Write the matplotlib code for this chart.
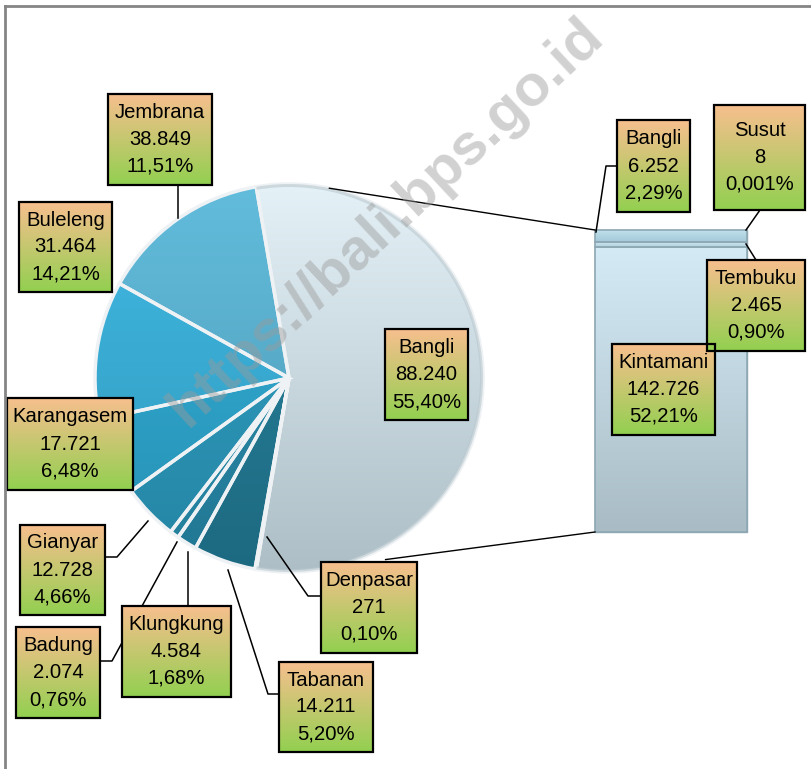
import numpy as np
import matplotlib
matplotlib.use('Agg')
import matplotlib.pyplot as plt
from matplotlib.patches import Rectangle, Wedge
from matplotlib.colors import to_rgb

plt.rcParams['font.family'] = ['Liberation Sans', 'DejaVu Sans']

# pie part (kabupaten / kota)
districts = ['Jembrana', 'Buleleng', 'Karangasem', 'Gianyar', 'Badung',
             'Klungkung', 'Tabanan', 'Denpasar']
district_values = [38849, 31464, 17721, 12728, 2074, 4584, 14211, 271]
district_value_text = ['38.849', '31.464', '17.721', '12.728', '2.074',
                       '4.584', '14.211', '271']
district_pct_text = ['11,51%', '14,21%', '6,48%', '4,66%', '0,76%',
                     '1,68%', '5,20%', '0,10%']
district_colors = ['#58b2d2', '#37b0da', '#2ca7d0', '#2a9abe', '#2792b3',
                   '#268aab', '#217b96', '#1d6f88']

bangli_label = 'Bangli'
bangli_value_text = '88.240'
bangli_pct_text = '55,40%'

# bar part (kecamatan di Bangli), bottom to top
sub_names = ['Kintamani', 'Tembuku', 'Bangli', 'Susut']
sub_values = [142726, 2465, 6252, 8]
sub_value_text = ['142.726', '2.465', '6.252', '8']
sub_pct_text = ['52,21%', '0,90%', '2,29%', '0,001%']
sub_colors = [('#d4ebf6', '#a9bcc5'), ('#c9e4ef', '#b3d2de'),
              ('#c2e2ee', '#a3c9d8'), ('#c2e2ee', '#a3c9d8')]

W, H = 812, 769
fig = plt.figure(figsize=(W / 100, H / 100), dpi=100)
ax = fig.add_axes([0, 0, 1, 1])


def gradient(extent, c_top, c_bot, clip=None, zorder=2):
    t = np.linspace(0, 1, 256)[:, None, None]
    arr = (1 - t) * np.array(to_rgb(c_top)) + t * np.array(to_rgb(c_bot))
    x0, x1, y0, y1 = extent
    im = ax.imshow(arr, extent=(x0, x1, y1, y0), aspect='auto',
                   interpolation='bilinear', zorder=zorder)
    if clip is not None:
        im.set_clip_path(clip)
    return im


# ---- pie ----
CX, CY, R = 289, 378, 194
bangli_total = sum(sub_values)
total = bangli_total + sum(district_values)
bangli_deg = 360 * bangli_total / total

wedges, _ = ax.pie([bangli_total] + district_values, center=(CX, CY), radius=R,
                   startangle=bangli_deg / 2, counterclock=False,
                   explode=[0.05] + [0] * len(districts),
                   colors=['#d5e5ed'] + district_colors,
                   wedgeprops=dict(linewidth=0, zorder=1))

gradient((CX - R, CX + 2 * R, CY - R, CY + R), '#e4f1f7', '#adbec6', clip=wedges[0])
for w, c in zip(wedges[1:], district_colors):
    rgb = np.array(to_rgb(c))
    top = np.clip(rgb + 0.04, 0, 1)
    bot = rgb * 0.86
    gradient((CX - R, CX + R, CY - R, CY + R), top, bot, clip=w)
for w in wedges:
    ax.add_patch(Wedge(w.center, w.r, w.theta1, w.theta2, fc='none',
                       ec='#eef2f4', lw=2.5, zorder=3))
ax.add_patch(Wedge(wedges[0].center, R, wedges[0].theta1, wedges[0].theta2,
                   width=3, fc='#b9c8cf', ec='none', alpha=0.6, zorder=3.1))

# ---- bar of pie ----
BX0, BX1, BBASE, BTOP = 595, 747, 532, 230
scale = (BBASE - BTOP) / bangli_total
bottom = BBASE
for v, (ct, cb) in zip(sub_values, sub_colors):
    h = v * scale
    if h < 0.5:
        bottom -= h
        continue
    bars = ax.bar((BX0 + BX1) / 2, -h, bottom=bottom, width=BX1 - BX0,
                  color=ct, edgecolor='#8ea8b4', linewidth=1, zorder=2)
    rect = bars[0]
    gradient((BX0, BX1, bottom - h, bottom), ct, cb, clip=rect, zorder=2.5)
    ax.add_patch(Rectangle((BX0, bottom - h), BX1 - BX0, h, fc='none',
                           ec='#8ea8b4', lw=1.2, zorder=3))
    bottom -= h

# connectors pie -> bar
bcx, bcy = wedges[0].center
a_top, a_bot = np.radians(78), np.radians(62)
ax.plot([bcx + R * np.cos(a_top), BX0], [bcy - R * np.sin(a_top), BTOP],
        color='black', lw=1, zorder=4)
ax.plot([bcx + 1.06 * R * np.cos(a_bot), BX0], [bcy + 1.06 * R * np.sin(a_bot), BBASE],
        color='black', lw=1, zorder=4)

# ---- data labels ----
boxes = {
    'Jembrana': (108, 212, 94, 185),
    'Buleleng': (19, 112, 202, 292),
    'Karangasem': (7, 133, 398, 490),
    'Gianyar': (20, 105, 525, 615),
    'Badung': (16, 100, 627, 718),
    'Klungkung': (122, 231, 606, 697),
    'Tabanan': (279, 373, 662, 752),
    'Denpasar': (321, 417, 562, 653),
}
sub_boxes = {
    'Kintamani': (612, 715, 344, 435),
    'Tembuku': (707, 805, 260, 351),
    'Bangli': (617, 690, 120, 212),
    'Susut': (714, 805, 105, 210),
}
leaders = {
    'Jembrana': [(178, 185), (178, 218)],
    'Gianyar': [(105, 557), (117, 557), (148, 521)],
    'Badung': [(100, 661), (112, 661), (177, 542)],
    'Klungkung': [(188, 606), (188, 552)],
    'Tabanan': [(279, 694), (268, 694), (228, 570)],
    'Denpasar': [(321, 596), (308, 596), (267, 537)],
    'sub_Bangli': [(617, 166), (606, 166), (596, 232)],
    'sub_Susut': [(760, 210), (746, 230)],
    'sub_Tembuku': [(756, 260), (746, 244)],
}


def label(box, lines):
    x0, x1, y0, y1 = box
    gradient((x0, x1, y0, y1), '#f7bf8e', '#92d050', zorder=5)
    ax.add_patch(Rectangle((x0, y0), x1 - x0, y1 - y0, fc='none',
                           ec='black', lw=1.6, zorder=6))
    cx, cy = (x0 + x1) / 2, (y0 + y1) / 2
    for i, s in enumerate(lines):
        ax.text(cx, cy + (i - 1) * 27, s, ha='center', va='center',
                fontsize=14.6, color='black', zorder=7)


for pts in leaders.values():
    xs, ys = zip(*pts)
    ax.plot(xs, ys, color='black', lw=1.1, zorder=4)

for name, vt, pt in zip(districts, district_value_text, district_pct_text):
    label(boxes[name], [name, vt, pt])
label((385, 468, 329, 420), [bangli_label, bangli_value_text, bangli_pct_text])
for name, vt, pt in zip(sub_names, sub_value_text, sub_pct_text):
    label(sub_boxes[name], [name, vt, pt])

# watermark
ax.text(386, 222, 'https://bali.bps.go.id', rotation=43, fontsize=42,
        fontweight='bold', color='#9a9a9a', alpha=0.45, ha='center',
        va='center', zorder=8)

# chart frame
ax.plot([5, 5], [H, 6], color='#858585', lw=2, zorder=9)
ax.plot([5, W], [6, 6], color='#858585', lw=2, zorder=9)

ax.set_xlim(0, W)
ax.set_ylim(H, 0)
ax.axis('off')
fig.savefig('out.png', dpi=100, facecolor='white')
